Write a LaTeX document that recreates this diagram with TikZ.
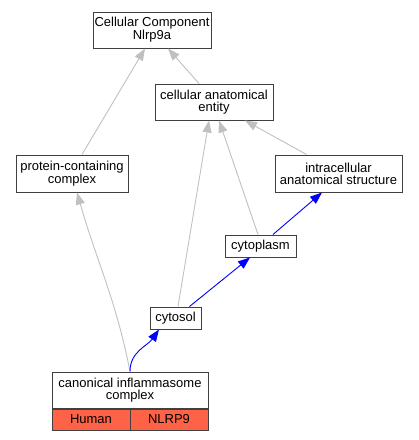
\documentclass[tikz,border=0pt]{standalone}
\usepackage{fontspec}
\setmainfont{Liberation Sans}
\usepackage{xcolor}
\usetikzlibrary{
	arrows.meta,    % punte triangolari piene
	positioning
}
\definecolor{isagray}{HTML}{C0C0C0}
\definecolor{tomato}{HTML}{FF6347}

\begin{document}
\begin{tikzpicture}[
		x=1pt, y=1pt,
		term/.style={draw=black!75, line width=1pt, fill=white, align=center,
			inner sep=0pt, font=\fontsize{13}{12}\selectfont},
		species/.style={term, fill=tomato, minimum width=78pt, minimum height=21pt},
		isa/.style={-{Triangle[length=12pt, width=9pt]}, draw=isagray, line width=0.9pt},
		partof/.style={-{Triangle[length=12pt, width=9pt]}, draw=blue, line width=0.9pt}
	]
	
	% --- Cornice ---
	\useasboundingbox (0,0) rectangle (419,-440);
	
	% --- Termini ---
	\node[term, minimum width=118pt, minimum height=36pt] (cc) at (152,-30) {Cellular Component\\Nlrp9a};
	\node[term, minimum width=118pt, minimum height=36pt] (cae) at (214,-102) {cellular anatomical\\entity};
	\node[term, minimum width=112pt, minimum height=37pt] (pcc) at (72,-173.5) {protein-containing\\complex};
	\node[term, minimum width=127pt, minimum height=37pt] (ias) at (338.5,-173.5) {intracellular\\anatomical structure};
	\node[term, minimum width=71pt, minimum height=22pt] (cytoplasm) at (260.5,-246) {cytoplasm};
	\node[term, minimum width=51pt, minimum height=22pt] (cytosol) at (175.5,-318) {cytosol};
	
	% --- Complesso con la riga delle specie ---
	\node[term, minimum width=156pt, minimum height=36pt] (canon) at (130,-390) {canonical inflammasome\\complex};
	\node[species, anchor=north west] (human) at (canon.south west) {Human};
	\node[species, anchor=north east] (nlrp9) at (canon.south east) {NLRP9};
	
	% --- Relazioni is_a (grigie) ---
	\draw[isa] ([xshift=10pt]pcc.north) -- ([xshift=-7pt]cc.south);
	\draw[isa] ([xshift=-15pt]cae.north) -- ([xshift=16pt]cc.south);
	\draw[isa] (canon.north) to[out=101, in=-74] ([xshift=5pt]pcc.south);
	\draw[isa] ([xshift=2.5pt]cytosol.north) -- ([xshift=-5pt]cae.south);
	\draw[isa] ([xshift=-2.5pt]cytoplasm.north) -- ([xshift=5pt]cae.south);
	\draw[isa] ([xshift=-32pt]ias.north) -- ([xshift=31pt]cae.south);
	
	% --- Relazioni part_of (blu) ---
	\draw[partof] ([xshift=12.5pt]cytoplasm.north) -- ([xshift=-16.5pt]ias.south);
	\draw[partof] ([xshift=14pt]cytosol.north) -- ([xshift=-10.5pt]cytoplasm.south);
	\draw[partof] (canon.north) to[out=90, in=-125] ([xshift=-16.5pt]cytosol.south);
\end{tikzpicture}
\end{document}
